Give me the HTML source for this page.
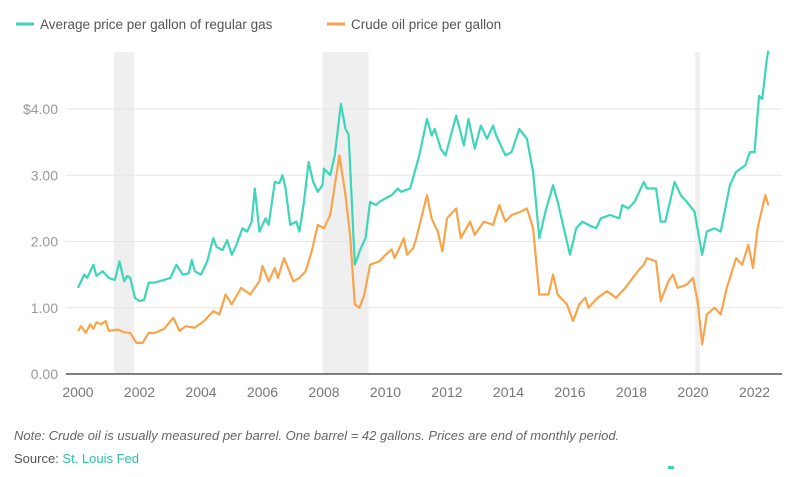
<!DOCTYPE html>
<html><head><meta charset="utf-8"><style>
body{margin:0;background:#fff;width:800px;height:472px;overflow:hidden;font-family:"Liberation Sans",sans-serif}
svg text{font-family:"Liberation Sans",sans-serif}
</style></head><body>
<svg id="c" width="800" height="472">
<g>
<line x1="16" y1="24" x2="34" y2="24" stroke="#3dd6b9" stroke-width="3"/>
<text x="40" y="29" font-size="13.5" fill="#555">Average price per gallon of regular gas</text>
<line x1="327" y1="24" x2="345" y2="24" stroke="#f9a44a" stroke-width="3"/>
<text x="351" y="29" font-size="13.5" fill="#555">Crude oil price per gallon</text>
</g>
<g id="bands"></g><g id="grid"></g><g id="lines"></g><g id="axes"></g>
<text x="14" y="440" font-size="13" font-style="italic" fill="#666">Note: Crude oil is usually measured per barrel. One barrel = 42 gallons. Prices are end of monthly period.</text>
<text x="14" y="463" font-size="13" fill="#555">Source: <tspan fill="#2bbfa3">St. Louis Fed</tspan></text>
<rect x="668" y="466" width="6" height="3" fill="#3dd6b9"/>
</svg>
<script>
const gasT=[2000.0,2000.2,2000.3,2000.5,2000.6,2000.8,2001.0,2001.2,2001.35,2001.5,2001.6,2001.7,2001.85,2002.0,2002.15,2002.3,2002.5,2002.8,2003.0,2003.2,2003.4,2003.6,2003.7,2003.8,2004.0,2004.2,2004.4,2004.5,2004.7,2004.85,2005.0,2005.15,2005.35,2005.5,2005.65,2005.75,2005.9,2006.1,2006.2,2006.4,2006.55,2006.65,2006.75,2006.9,2007.1,2007.2,2007.35,2007.5,2007.65,2007.8,2007.95,2008.0,2008.2,2008.35,2008.55,2008.7,2008.8,2009.0,2009.2,2009.35,2009.5,2009.7,2009.8,2010.0,2010.2,2010.4,2010.5,2010.8,2010.95,2011.1,2011.35,2011.5,2011.6,2011.8,2011.95,2012.3,2012.55,2012.7,2012.9,2013.1,2013.3,2013.5,2013.6,2013.9,2014.1,2014.35,2014.6,2014.8,2015.0,2015.2,2015.45,2015.6,2015.8,2016.0,2016.2,2016.4,2016.6,2016.85,2017.0,2017.3,2017.6,2017.7,2017.9,2018.1,2018.4,2018.5,2018.8,2018.95,2019.1,2019.4,2019.6,2019.8,2020.05,2020.3,2020.45,2020.7,2020.9,2021.2,2021.4,2021.7,2021.85,2022.0,2022.15,2022.25,2022.4,2022.45];
const gasV=[1.30,1.50,1.45,1.65,1.48,1.55,1.45,1.42,1.70,1.40,1.48,1.45,1.15,1.10,1.12,1.38,1.38,1.42,1.45,1.65,1.50,1.52,1.72,1.55,1.50,1.70,2.05,1.92,1.87,2.02,1.80,1.95,2.20,2.15,2.30,2.80,2.15,2.35,2.25,2.90,2.88,3.00,2.80,2.25,2.30,2.15,2.60,3.20,2.90,2.75,2.85,3.10,3.00,3.30,4.08,3.70,3.62,1.65,1.90,2.05,2.60,2.55,2.60,2.65,2.70,2.80,2.75,2.80,3.05,3.30,3.85,3.60,3.70,3.40,3.30,3.90,3.45,3.85,3.40,3.75,3.55,3.75,3.60,3.30,3.35,3.70,3.55,3.05,2.05,2.45,2.85,2.60,2.20,1.80,2.20,2.30,2.25,2.20,2.35,2.40,2.35,2.55,2.50,2.60,2.90,2.80,2.80,2.30,2.30,2.90,2.70,2.60,2.45,1.80,2.15,2.20,2.15,2.85,3.05,3.15,3.35,3.35,4.20,4.15,4.75,4.88];
const crudeT=[2000.0,2000.1,2000.25,2000.4,2000.5,2000.6,2000.75,2000.9,2001.0,2001.3,2001.5,2001.7,2001.9,2002.1,2002.3,2002.5,2002.8,2003.1,2003.3,2003.5,2003.8,2004.1,2004.4,2004.6,2004.8,2005.0,2005.3,2005.6,2005.9,2006.0,2006.2,2006.4,2006.5,2006.7,2007.0,2007.2,2007.4,2007.6,2007.8,2008.0,2008.2,2008.5,2008.7,2008.85,2009.0,2009.15,2009.3,2009.5,2009.8,2010.0,2010.2,2010.3,2010.6,2010.7,2010.9,2011.0,2011.35,2011.5,2011.7,2011.85,2012.0,2012.3,2012.45,2012.75,2012.9,2013.2,2013.5,2013.7,2013.9,2014.1,2014.4,2014.6,2014.8,2015.0,2015.3,2015.45,2015.6,2015.9,2016.1,2016.3,2016.5,2016.6,2016.9,2017.2,2017.5,2017.8,2018.2,2018.4,2018.5,2018.8,2018.95,2019.2,2019.35,2019.5,2019.8,2020.0,2020.15,2020.3,2020.45,2020.7,2020.9,2021.1,2021.4,2021.6,2021.8,2021.95,2022.1,2022.35,2022.45];
const crudeV=[0.65,0.72,0.62,0.75,0.68,0.78,0.75,0.80,0.65,0.67,0.63,0.62,0.47,0.47,0.62,0.62,0.68,0.85,0.65,0.72,0.70,0.80,0.95,0.90,1.20,1.05,1.30,1.20,1.40,1.63,1.40,1.60,1.45,1.75,1.40,1.45,1.55,1.85,2.25,2.20,2.40,3.30,2.70,2.10,1.05,1.00,1.18,1.65,1.70,1.80,1.88,1.75,2.05,1.80,1.90,2.05,2.70,2.35,2.15,1.85,2.35,2.50,2.05,2.30,2.10,2.30,2.25,2.55,2.30,2.40,2.45,2.50,2.20,1.20,1.20,1.50,1.20,1.05,0.80,1.05,1.15,1.00,1.15,1.25,1.15,1.30,1.55,1.65,1.75,1.70,1.10,1.40,1.50,1.30,1.35,1.45,1.10,0.45,0.90,1.00,0.90,1.30,1.75,1.65,1.95,1.60,2.20,2.70,2.55];
const yTicks=[0,1,2,3,4];
const yLabels=["0.00","1.00","2.00","3.00","$4.00"];
const xTicks=[2000,2002,2004,2006,2008,2010,2012,2014,2016,2018,2020,2022];
const recessions=[[2001.17,2001.83],[2007.95,2009.45],[2020.07,2020.23]];
const X=t=>78+30.75*(t-2000), Y=v=>374-66.25*v;
const NS="http://www.w3.org/2000/svg";
function mk(tag,parent,attrs){const e=document.createElementNS(NS,tag);for(const k in attrs)e.setAttribute(k,attrs[k]);document.getElementById(parent).appendChild(e);return e;}
recessions.forEach(r=>{const e=mk('rect','bands',{x:X(r[0]),y:52,width:X(r[1])-X(r[0]),height:322,fill:'#efefef'});

});
yTicks.forEach((v,i)=>{if(v>0){const g=mk('line','grid',{x1:66,x2:782,y1:Y(v),y2:Y(v),stroke:'#e6e6e6','stroke-width':1});

}
const t=mk('text','axes',{x:58,y:Y(v)+5,'text-anchor':'end','font-size':14,fill:'#999'});t.textContent=yLabels[i];

});
const ax=mk('line','axes',{x1:66,x2:782,y1:374,y2:374,stroke:'#555','stroke-width':1.5});


xTicks.forEach(t=>{const e=mk('text','axes',{x:X(t),y:397,'text-anchor':'middle','font-size':14,fill:'#777'});e.textContent=t;

});
function line(T,V,c,name){const d=T.map((t,i)=>(i?'L':'M')+X(t).toFixed(1)+','+Y(V[i]).toFixed(1)).join('');
const p=mk('path','lines',{d:d,fill:'none',stroke:c,'stroke-width':2.2,'stroke-linejoin':'round'});

}
line(gasT,gasV,'#3dd6b9','gas-price-line');
line(crudeT,crudeV,'#f9a44a','crude-price-line');
</script>
</body></html>
